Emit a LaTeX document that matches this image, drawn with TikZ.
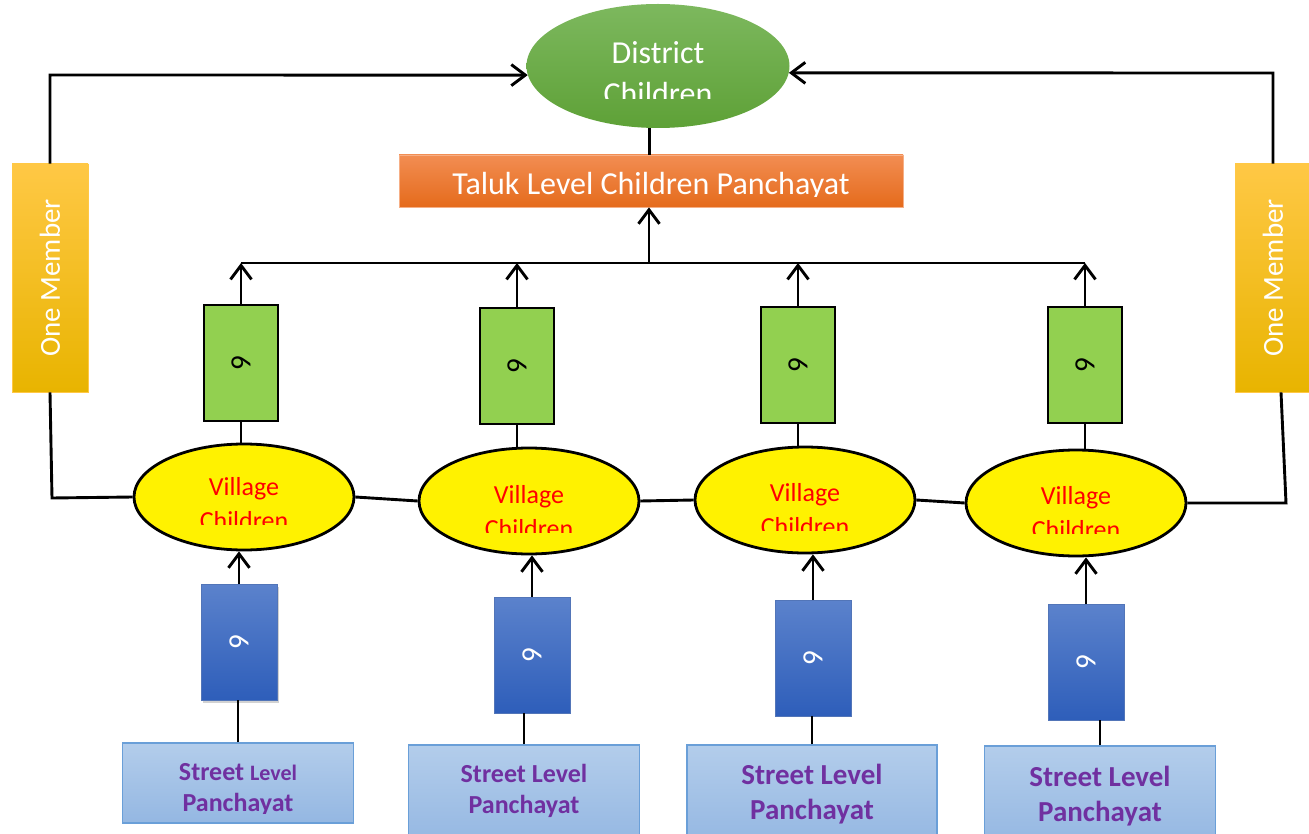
\documentclass[tikz,border=0pt]{standalone}
\usepackage{fontspec}
\setmainfont{Carlito}
\usetikzlibrary{shapes.geometric,arrows.meta,shadows}
\definecolor{distA}{HTML}{7DB85E}
\definecolor{distB}{HTML}{5EA137}
\definecolor{talA}{HTML}{F28D52}
\definecolor{talB}{HTML}{E56B1C}
\definecolor{memA}{HTML}{FFC845}
\definecolor{memB}{HTML}{E8B400}
\definecolor{sixgreen}{HTML}{92D050}
\definecolor{bluA}{HTML}{5B82CC}
\definecolor{bluB}{HTML}{2E5EBA}
\definecolor{strA}{HTML}{B3CDEB}
\definecolor{strB}{HTML}{94B7E2}
\definecolor{stredge}{HTML}{6A9FD8}
\definecolor{purp}{HTML}{7030A0}

\begin{document}
\begin{tikzpicture}[x=1pt,y=-1pt,
	line/.style={line width=2.9pt},
	arr/.style={line width=2.9pt,-{Straight Barb[length=14pt,width=21pt]}},
	district/.style={ellipse,inner sep=0pt,minimum width=263pt,minimum height=124pt,top color=distA,bottom color=distB},
	taluk/.style={rectangle,inner sep=0pt,minimum width=504pt,minimum height=52pt,top color=talA,bottom color=talB,draw=talA!70!white,line width=.8pt},
	member/.style={rectangle,inner sep=0pt,minimum width=76pt,minimum height=228pt,top color=memA,bottom color=memB,draw=memA,line width=.8pt},
	sixbox/.style={rectangle,inner sep=0pt,minimum width=74pt,minimum height=116pt,fill=sixgreen,draw,line width=2.2pt},
	village/.style={ellipse,inner sep=0pt,minimum width=220pt,minimum height=106pt,fill=yellow,draw,line width=2.8pt},
	bluebox/.style={rectangle,inner sep=0pt,minimum width=76pt,minimum height=116pt,top color=bluA,bottom color=bluB,draw=bluA!90!black,line width=.6pt},
	street/.style={rectangle,inner sep=0pt,minimum width=231pt,minimum height=100pt,top color=strA,bottom color=strB,draw=stredge,line width=1.5pt},
	wtext/.style={text=white,font=\fontsize{32}{38}\selectfont,anchor=base,inner sep=0pt},
	memtext/.style={text=white,font=\fontsize{29}{34}\selectfont,rotate=90,inner sep=0pt},
	sixtext/.style={font=\fontsize{28}{34}\selectfont,rotate=-90,inner sep=0pt},
	vtext/.style={text=red,font=\fontsize{26}{31}\selectfont,anchor=base,inner sep=0pt},
	stext/.style={text=purp,font=\bfseries\fontsize{26}{31}\selectfont,anchor=base,inner sep=0pt},
	btext/.style={text=purp,font=\bfseries\fontsize{29}{34}\selectfont,anchor=base,inner sep=0pt}]
	\useasboundingbox[fill=white] (0,0) rectangle (1309,834);

	\node[district] (dist) at (658,66) {};
	\node[taluk] (tal) at (651,181) {};
	\node[member] (mem1) at (50,278) {};
	\node[member] (mem2) at (1273,278) {};

	\node[sixbox] (g1) at (241,363) {};
	\node[sixbox] (g2) at (517,366) {};
	\node[sixbox] (g3) at (798,365) {};
	\node[sixbox] (g4) at (1085,365) {};

	\node[village] (v1) at (244,497) {};
	\node[village] (v2) at (529,501) {};
	\node[village] (v3) at (805,500) {};
	\node[village] (v4) at (1076,503) {};

	\node[bluebox,drop shadow={opacity=.35,shadow xshift=2pt,shadow yshift=-3pt}] (b1) at (239,642) {};
	\node[bluebox] (b2) at (532,655) {};
	\node[bluebox] (b3) at (813,658) {};
	\node[bluebox] (b4) at (1086,662) {};

	\node[street,minimum height=80pt] (s1) at (238,783) {};
	\node[street] (s2) at (524,795) {};
	\node[street,minimum width=250pt] (s3) at (812,795) {};
	\node[street] (s4) at (1100,796) {};

	\coordinate (lc) at (50,75);
	\coordinate (rc) at (1273,73);
	\coordinate (lb) at (52,498);
	\coordinate (rb) at (1286,503);
	\coordinate (bar) at (649,263);

	\draw[arr] (mem1.north) -- (lc) -- (dist.184);
	\draw[arr] (mem2.north) -- (rc) -- (dist.-3);
	\draw[line] (mem1.south) -- (lb) -- (v1.west);
	\draw[line] (mem2.-86) -- (rb) -- (v4.east);
	\draw[line] (dist.262) -- (dist.262 |- tal.north);
	\draw[arr] (bar) -- (bar |- tal.south);
	\draw[line] (g1.north |- bar) -- (g4.north |- bar);

	\draw[arr] (g1.north) -- (g1.north |- bar);
	\draw[arr] (g2.north) -- (g2.north |- bar);
	\draw[arr] (g3.north) -- (g3.north |- bar);
	\draw[arr] (g4.north) -- (g4.north |- bar);
	\draw[line] (g1.south) -- (g1.south |- v1.north);
	\draw[line] (g2.south) -- (g2.south |- v2.north);
	\draw[line] (g3.south) -- (g3.south |- v3.north);
	\draw[line] (g4.south) -- (g4.south |- v4.north);

	\draw[line] (v1.east) -- (v2.west);
	\draw[line] (v2.east) -- (v3.west);
	\draw[line] (v3.east) -- (v4.west);

	\draw[arr] (b1.north) -- (b1.north |- v1.south);
	\draw[arr] (b2.north) -- (b2.north |- v2.south);
	\draw[arr] (b3.north) -- (b3.north |- v3.south);
	\draw[arr] (b4.north) -- (b4.north |- v4.south);
	\draw[line] (s1.north) -- (s1.north |- b1.south);
	\draw[line] (s2.north) -- (s2.north |- b2.south);
	\draw[line] (s3.north) -- (s3.north |- b3.south);
	\draw[line] (s4.north) -- (s4.north |- b4.south);

	\node[wtext] (disttop) at (658,64) {District};
	\begin{scope}
		\clip (527,0) rectangle (790,99);
		\node[wtext] (distbot) at (658,105) {Children};
	\end{scope}
	\begin{scope}
		\clip (399,150) rectangle (904,197);
		\node[wtext] (taltxt) at (651,195) {Taluk Level Children Panchayat};
	\end{scope}
	\node[memtext] (mem1txt) at (mem1) {One Member};
	\node[memtext] (mem2txt) at (mem2) {One Member};

	\node[sixtext] (g1txt) at (g1) {6};
	\node[sixtext] (g2txt) at (g2) {6};
	\node[sixtext] (g3txt) at (g3) {6};
	\node[sixtext] (g4txt) at (g4) {6};
	\node[sixtext,text=white] (b1txt) at (b1) {6};
	\node[sixtext,text=white] (b2txt) at (b2) {6};
	\node[sixtext,text=white] (b3txt) at (b3) {6};
	\node[sixtext,text=white] (b4txt) at (b4) {6};

	\node[vtext] (v1top) at (244,495) {Village};
	\node[vtext] (v2top) at (529,503) {Village};
	\node[vtext] (v3top) at (805,501) {Village};
	\node[vtext] (v4top) at (1076,504) {Village};
	\begin{scope}
		\clip (100,400) rectangle (1250,524);
		\node[vtext] (v1bot) at (244,529) {Children};
	\end{scope}
	\begin{scope}
		\clip (100,400) rectangle (1250,532);
		\node[vtext] (v2bot) at (529,537) {Children};
	\end{scope}
	\begin{scope}
		\clip (100,400) rectangle (1250,530);
		\node[vtext] (v3bot) at (805,535) {Children};
	\end{scope}
	\begin{scope}
		\clip (100,400) rectangle (1250,533);
		\node[vtext] (v4bot) at (1076,538) {Children};
	\end{scope}

	\node[stext] (s1top) at (238,780) {Street {\fontsize{22}{26}\selectfont Level}};
	\begin{scope}
		\clip (100,700) rectangle (400,813);
		\node[stext] (s1bot) at (238,811) {Panchayat};
	\end{scope}
	\node[stext] (s2top) at (524,782) {Street Level};
	\node[stext] (s2bot) at (524,813) {Panchayat};
	\node[btext] (s3top) at (812,784) {Street Level};
	\node[btext] (s3bot) at (812,819) {Panchayat};
	\node[btext] (s4top) at (1100,786) {Street Level};
	\node[btext] (s4bot) at (1100,821) {Panchayat};
\end{tikzpicture}
\end{document}
